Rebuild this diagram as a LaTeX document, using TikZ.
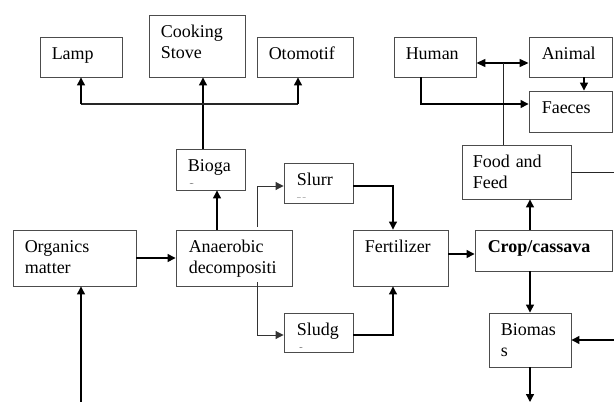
\documentclass[tikz,border=0pt]{standalone}
\usepackage{fontspec}
\setmainfont{Liberation Serif}
\usetikzlibrary{arrows.meta,calc,fit}
\tikzset{
  box/.style={draw=black!70, line width=0.9pt, inner sep=0pt},
  lbl/.style={anchor=base west, inner sep=0pt, text width=110pt, align=left,
              font=\fontsize{18}{21}\selectfont},
  tip/.style={-{Triangle[length=8pt,width=8pt]}},
  arr/.style={line width=1.3pt, tip},
  thinarr/.style={line width=1pt, draw=black!80, tip},
  ln/.style={line width=1pt, draw=black!85},
}
\begin{document}
\begin{tikzpicture}[x=1pt,y=-1pt]
\useasboundingbox (0,0) rectangle (614,402);

% boxes
\node[box, fit={(40,37) (122,77)}] (lamp) {};
\node[box, fit={(149,15) (245,77)}] (cook) {};
\node[box, fit={(257,37) (353,77)}] (oto) {};
\node[box, fit={(176,149) (245,190)}] (bioga) {};
\node[box, fit={(284,163) (353,203)}] (slurr) {};
\node[box, fit={(13,230) (136,286)}] (org) {};
\node[box, fit={(176,230) (292,286)}] (anaer) {};
\node[box, fit={(284,313) (353,352)}] (sludg) {};
\node[box, fit={(353,230) (448,286)}] (fert) {};
\node[box, fit={(475,230) (612,271)}] (crop) {};
\node[box, fit={(462,145) (571,199)}] (food) {};
\node[box, fit={(489,313) (571,367)}] (biomas) {};
\node[box, fit={(394,37) (476,77)}] (human) {};
\node[box, fit={(529,37) (612,77)}] (animal) {};
\node[box, fit={(529,91) (612,132)}] (faeces) {};

% labels
\node[lbl] (lampT) at ($(lamp.north west)+(12,22.5)$) {Lamp};
\node[lbl] (cookT) at ($(cook.north west)+(12,22.5)$) {Cooking\\Stove};
\node[lbl] (otoT) at ($(oto.north west)+(12,22.5)$) {Otomotif};
\begin{scope}
  \clip (176,149) rectangle (245,183.5);
  \node[lbl] (biogaT) at ($(bioga.north west)+(12,22.5)$) {Bioga\\s};
\end{scope}
\begin{scope}
  \clip (284,163) rectangle (353,197.5);
  \node[lbl] (slurrT) at ($(slurr.north west)+(13,22.5)$) {Slurr\\y};
\end{scope}
\begin{scope}
  \clip (284,313) rectangle (353,347.5);
  \node[lbl] (sludgT) at ($(sludg.north west)+(13,22.5)$) {Sludg\\e};
\end{scope}
\node[lbl] (orgT) at ($(org.north west)+(12,23)$) {Organics\\matter};
\node[lbl] (anaerT) at ($(anaer.north west)+(13,23)$) {Anaerobic\\decompositi};
\node[lbl] (fertT) at ($(fert.north west)+(12,23)$) {Fertilizer};
\node[lbl] (cropT) at ($(crop.north west)+(13,23)$) {\textbf{Crop/cassava}};
\node[lbl] (foodT) at ($(food.north west)+(11,22.5)$) {Food and\\Feed};
\node[lbl] (biomasT) at ($(biomas.north west)+(12,22.5)$) {Biomas\\s};
\node[lbl] (humanT) at ($(human.north west)+(12,22.5)$) {Human};
\node[lbl] (animalT) at ($(animal.north west)+(13,22.5)$) {Animal};
\node[lbl] (faecesT) at ($(faeces.north west)+(13,22.5)$) {Faeces};

% helper coordinates
\coordinate (hub) at (203,104);
\coordinate (hl) at (81,104);
\coordinate (hr) at (298,104);
\coordinate (ab) at (217,0);
\coordinate (fx) at (393,0);
\coordinate (cx) at (530,0);
\coordinate (bot1) at (81,402);
\coordinate (bot2) at (530,402);
\coordinate (redge1) at (614,172);
\coordinate (redge2) at (614,340);
\coordinate (ha) at (503,63);
\coordinate (hf) at (421,104);
\coordinate (ax) at (584,0);

% connectors: biogas distribution
\draw[arr] (bioga.north -| hub) -- (cook.south -| hub);
\draw[ln, line width=1.2pt] (hl) -- (hr);
\draw[arr] (hl) -- (lamp.south -| hl);
\draw[arr] (hr) -- (oto.south -| hr);

% process
\draw[arr] (org.east) -- (anaer.west);
\draw[arr] (anaer.north -| ab) -- (bioga.south -| ab);
\draw[thinarr] ([shift={(82,-3)}]anaer.north west) |- (slurr.west |- 0,186);
\draw[thinarr] ([shift={(82,-4)}]anaer.south west) |- (sludg.west |- 0,335);
\draw[arr, line width=1.1pt] (slurr.east |- 0,186) -| (fert.north -| fx);
\draw[arr, line width=1.1pt] (sludg.east |- 0,335) -| (fert.south -| fx);
\draw[arr] (fert.east |- 0,254) -- (crop.west |- 0,254);
\draw[arr] (crop.north -| cx) -- (food.south -| cx);
\draw[arr] (crop.south -| cx) -- (biomas.north -| cx);
\draw[arr] (biomas.south -| cx) -- (bot2);
\draw[arr] (redge2) -- (biomas.east |- redge2);
\draw[ln] (food.east |- redge1) -- (redge1);
\draw[arr] (bot1) -- (org.south -| bot1);

% human / animal
\draw[line width=1.3pt, {Triangle[length=9pt,width=8pt]}-{Triangle[length=9pt,width=8pt]}] (human.east |- ha) -- (animal.west |- ha);
\draw[ln] (ha) -- (food.north -| ha);
\draw[arr] (human.south -| hf) |- (faeces.west |- hf);
\draw[arr] (animal.south -| ax) -- (faeces.north -| ax);
\end{tikzpicture}
\end{document}
